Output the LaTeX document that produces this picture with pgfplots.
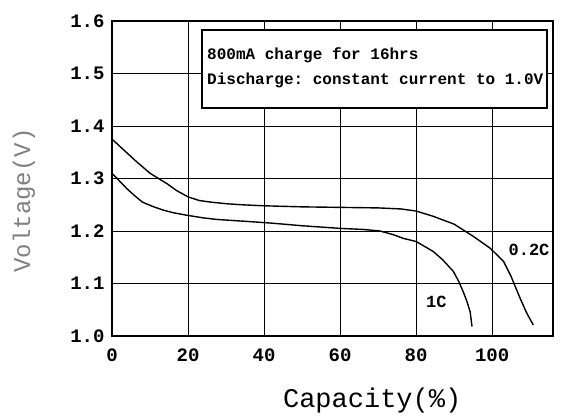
\documentclass[border=0pt]{standalone}
\usepackage{pgfplots}
\pgfplotsset{compat=1.18}
\usepackage{fontspec}
\setmainfont{Liberation Serif}
\setmonofont{Liberation Mono}
\begin{document}
\begin{tikzpicture}[x=1pt,y=1pt]
\useasboundingbox (0,0) rectangle (565,416);
\begin{axis}[
  at={(112pt,80pt)}, anchor=south west,
  scale only axis, width=441pt, height=315pt,
  xmin=0, xmax=116, ymin=1.0, ymax=1.6,
  xtick={0,20,40,60,80,100},
  ytick={1.0,1.1,1.2,1.3,1.4,1.5,1.6},
  yticklabel style={/pgf/number format/fixed,/pgf/number format/precision=1,/pgf/number format/fixed zerofill, xshift=-4pt},
  /pgf/number format/assume math mode=true,
  ticklabel style={font=\ttfamily\bfseries\fontsize{19}{21}\selectfont},
  xticklabel style={yshift=-9pt},
  major tick length=0pt,
  grid=major,
  major grid style={black, line width=0.9pt},
  axis line style={line width=1.8pt},
  xlabel={Capacity(\%)},
  xlabel style={font=\ttfamily\fontsize{27}{29}\selectfont, at={(axis description cs:0.59,0)}, anchor=north, yshift=-48pt},
  ylabel={Voltage(V)},
  ylabel style={font=\ttfamily\fontsize{24}{26}\selectfont, text=black!50, at={(axis description cs:-0.2,0.43)}, anchor=center},
  clip=false,
]
\addplot[black, line width=1.4pt] coordinates {
(0,1.375) (3,1.355) (6,1.335) (10,1.31) (14.5,1.29) (17,1.277) (20,1.265) (23,1.258) (26,1.255) (30,1.252) (34,1.250) (40,1.248) (50,1.246) (60,1.245) (70,1.244) (76,1.242) (80,1.238) (84.5,1.228) (90,1.213) (95,1.190) (99.5,1.167) (103,1.142) (105,1.113) (107.4,1.071) (109,1.045) (110.8,1.021)
};
\addplot[black, line width=1.4pt] coordinates {
(0,1.310) (2,1.295) (4,1.280) (6,1.267) (8,1.255) (11,1.246) (13.4,1.240) (16,1.235) (19.7,1.230) (24,1.225) (27.6,1.222) (36,1.218) (42,1.215) (50,1.210) (60,1.205) (66,1.203) (70.5,1.200) (74,1.193) (76.6,1.186) (80,1.180) (84.5,1.161) (87,1.145) (89.8,1.123) (91.2,1.104) (92.4,1.084) (93.4,1.065) (94.2,1.046) (94.7,1.018)
};
\draw[line width=1.8pt, fill=white] (axis cs:23.7,1.434) rectangle (axis cs:114.5,1.583);
\node[anchor=west, font=\ttfamily\bfseries\fontsize{16}{18}\selectfont, inner sep=0pt] at (axis cs:25,1.535) {800mA charge for 16hrs};
\node[anchor=west, font=\ttfamily\bfseries\fontsize{16}{18}\selectfont, inner sep=0pt] at (axis cs:25,1.486) {Discharge: constant current to 1.0V};
\node[font=\ttfamily\bfseries\fontsize{17}{19}\selectfont, fill=white, inner sep=1pt] at (axis cs:109.7,1.164) {0.2C};
\node[font=\ttfamily\bfseries\fontsize{17}{19}\selectfont, fill=white, inner sep=1pt] at (axis cs:85.3,1.065) {1C};
\end{axis}
\end{tikzpicture}
\end{document}
